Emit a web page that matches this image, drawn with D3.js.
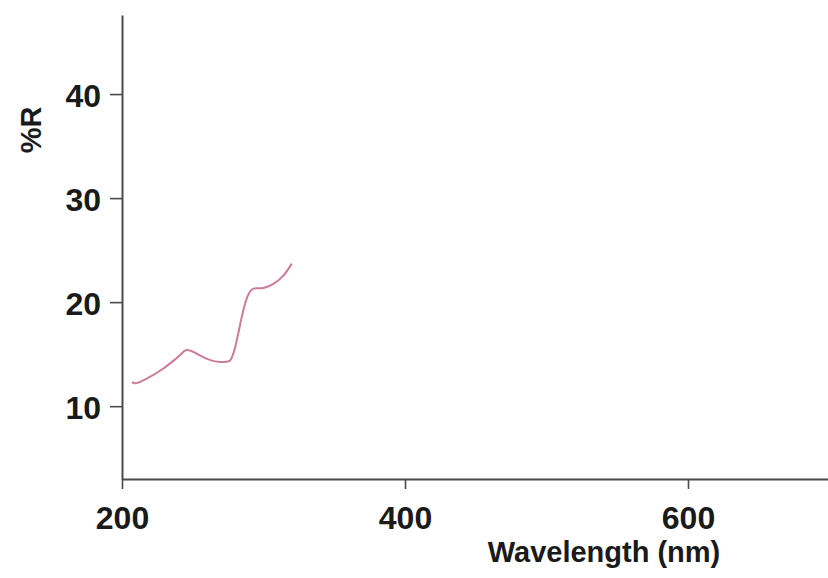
<!DOCTYPE html>
<html>
<head>
<meta charset="utf-8">
<script src="https://cdn.jsdelivr.net/npm/d3@7"></script>
<style>
  html, body { margin: 0; padding: 0; background: #fff; }
  svg { display: block; }
</style>
</head>
<body>
<svg id="chart" width="828" height="578"></svg>
<script>
// Data
const wavelength = [207, 210, 217.5, 229, 238.5, 245.5, 249, 254, 260, 269, 276, 279, 282, 285, 288, 291, 293, 300, 307, 314, 320];
const reflectance = [12.3, 12.2, 12.65, 13.6, 14.6, 15.4, 15.3, 14.95, 14.55, 14.25, 14.35, 15.2, 16.9, 18.8, 20.3, 21.1, 21.3, 21.35, 21.75, 22.55, 23.7];
const xTicks = [200, 400, 600];
const yTicks = [10, 20, 30, 40];
const xLabel = "Wavelength (nm)";
const yLabel = "%R";

const svg = d3.select("#chart");
const x = d3.scaleLinear().domain([200, 700]).range([122, 829.5]);
const y = d3.scaleLinear().domain([3, 47.6]).range([479, 15]);

const font = "'Liberation Sans', Arial, sans-serif";
const axisColor = "#4a4a4a";

const gx = svg.append("g")
  .attr("transform", "translate(0,479)")
  .call(d3.axisBottom(x).tickValues(xTicks).tickSizeInner(10).tickSizeOuter(0).tickPadding(17).tickFormat(d3.format("d")));
const gy = svg.append("g")
  .attr("transform", "translate(122,0)")
  .call(d3.axisLeft(y).tickValues(yTicks).tickSizeInner(12).tickSizeOuter(0).tickPadding(9).tickFormat(d3.format("d")));

[gx, gy].forEach(g => {
  g.select(".domain").attr("stroke", axisColor).attr("stroke-width", 2);
  g.selectAll(".tick line").attr("stroke", axisColor).attr("stroke-width", 1.6);
  g.selectAll(".tick text")
    .attr("fill", "#1a1a1a")
    .style("font-family", font)
    .style("font-weight", "bold")
    .style("font-size", "32px");
});
gy.selectAll(".tick text").attr("dy", "0.4em");

svg.append("text")
  .attr("x", 604).attr("y", 562)
  .attr("text-anchor", "middle")
  .attr("fill", "#1a1a1a")
  .style("font-family", font)
  .style("font-weight", "bold")
  .style("font-size", "29px")
  .text(xLabel);

svg.append("text")
  .attr("transform", "translate(41,130) rotate(-90)")
  .attr("text-anchor", "middle")
  .attr("fill", "#1a1a1a")
  .style("font-family", font)
  .style("font-weight", "bold")
  .style("font-size", "29px")
  .text(yLabel);

const pts = wavelength.map((w, i) => [w, reflectance[i]]);
const line = d3.line().x(d => x(d[0])).y(d => y(d[1])).curve(d3.curveCatmullRom.alpha(0.5));
svg.append("path")
  .datum(pts)
  .attr("fill", "none")
  .attr("stroke", "#cc7b9b")
  .attr("stroke-width", 2)
  .attr("d", line);
</script>
</body>
</html>
